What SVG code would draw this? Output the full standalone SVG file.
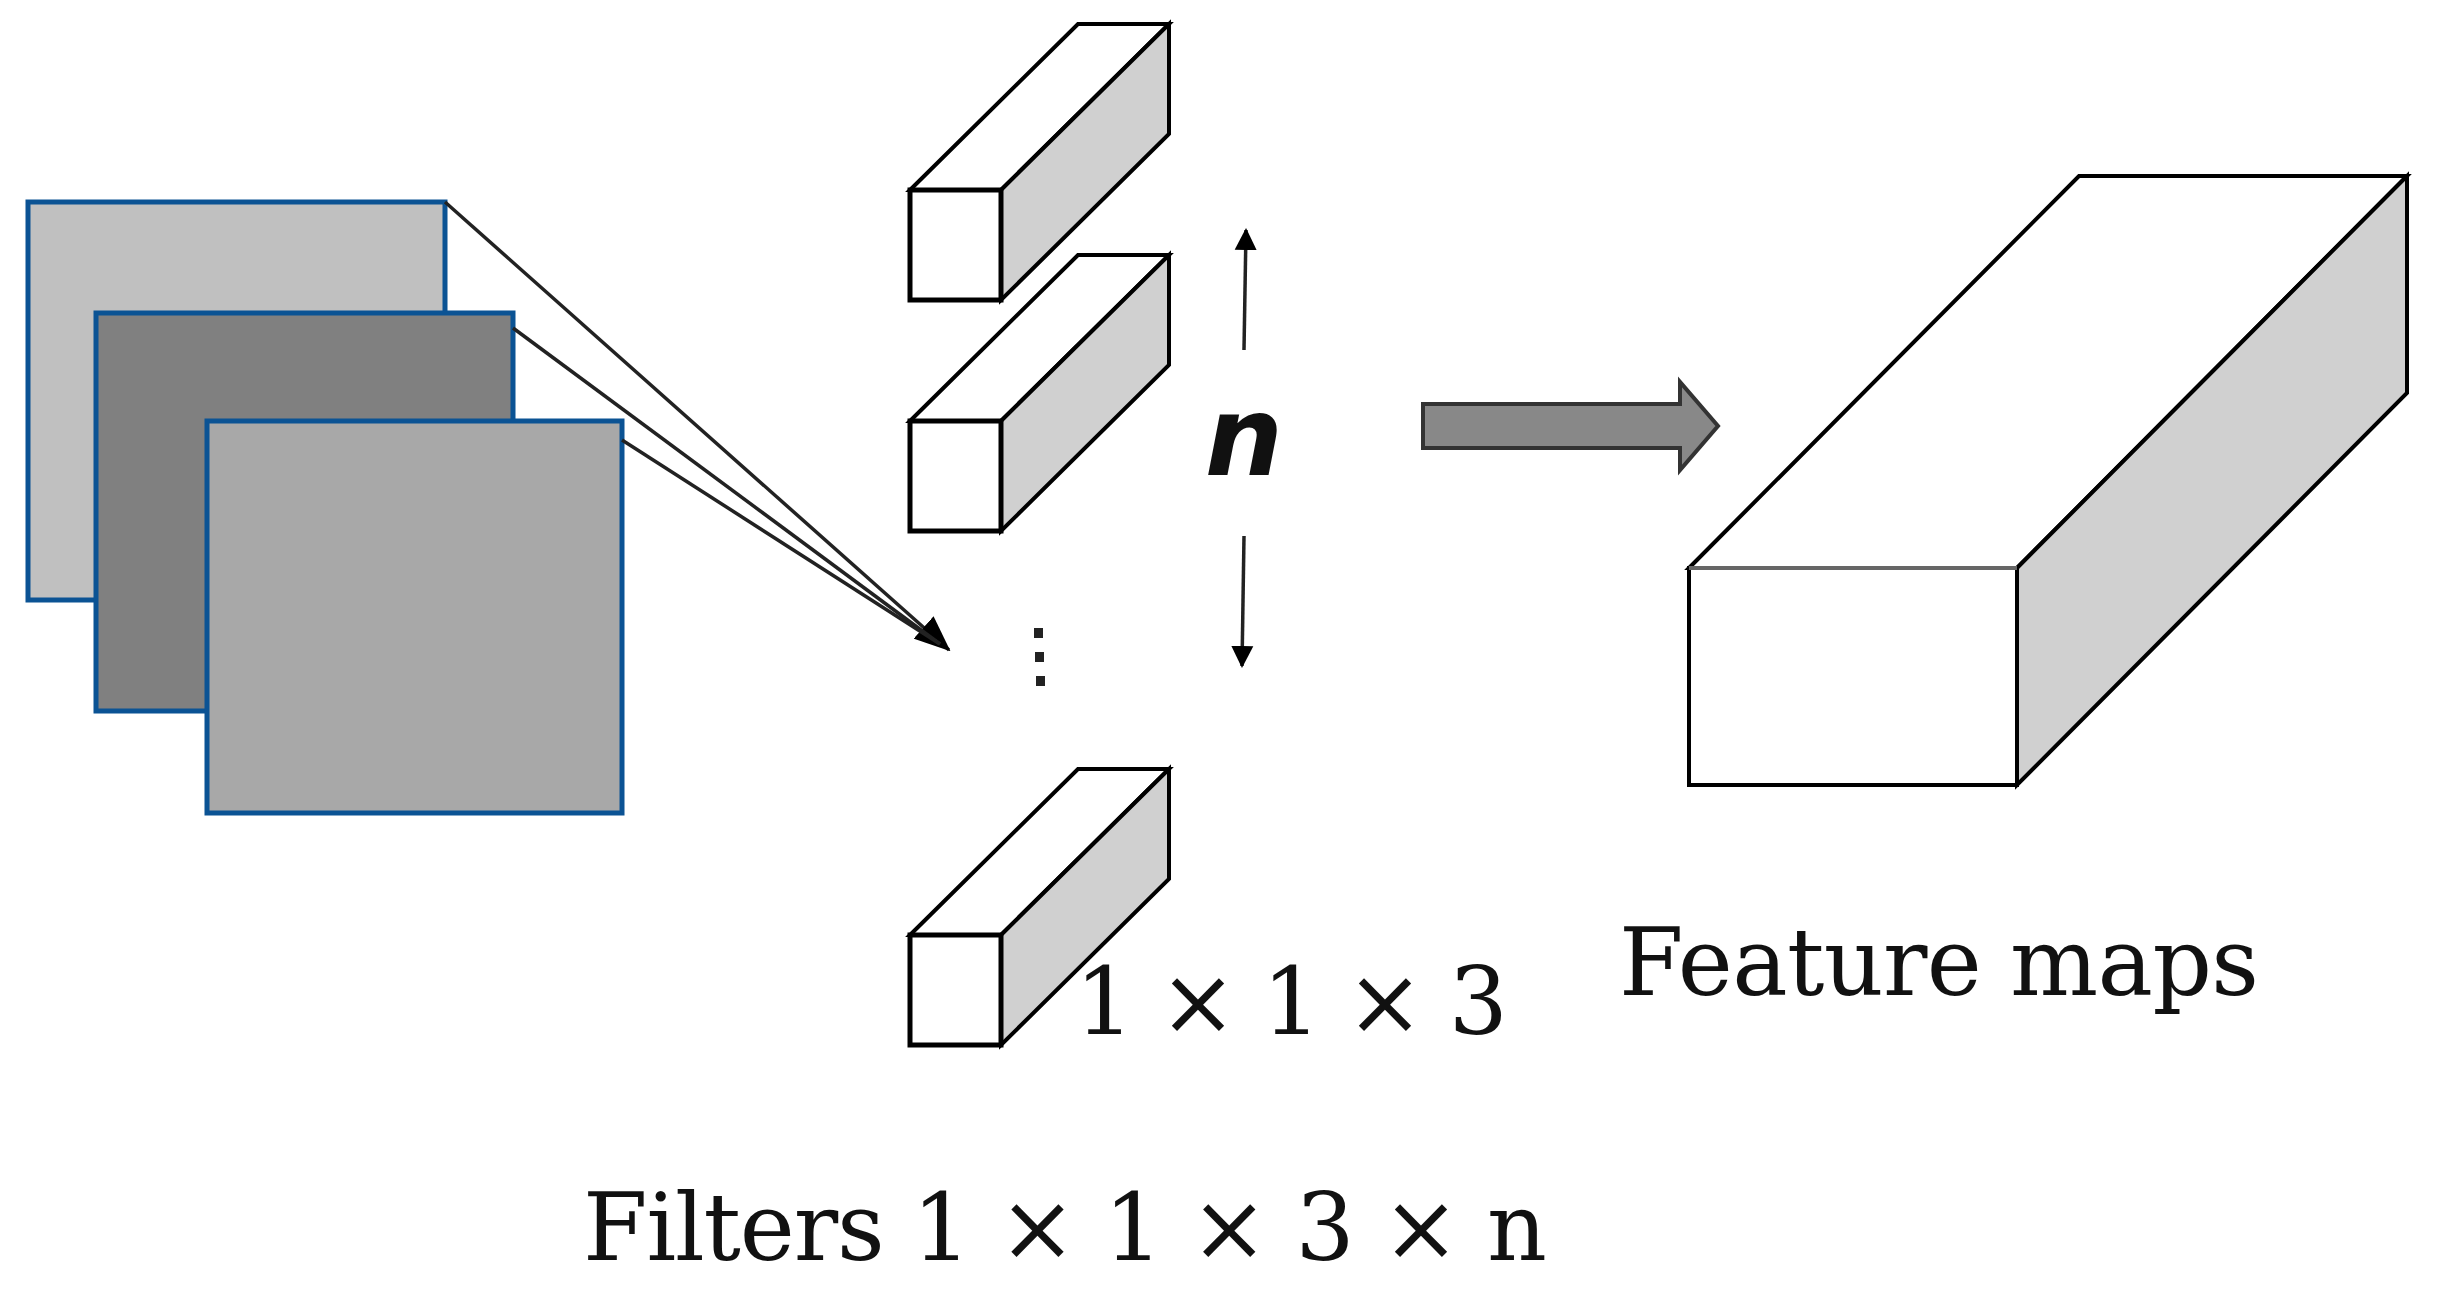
<svg xmlns="http://www.w3.org/2000/svg" width="2438" height="1297" viewBox="0 0 2438 1297">
<style>
.pl{stroke:#0b5394;stroke-width:5}
.f{fill:#fff;stroke:#000;stroke-width:5}
.s{fill:#d0d0d0;stroke:#000;stroke-width:4}
.t{fill:#fff;stroke:#000;stroke-width:4}
.txt{font-family:"DejaVu Serif",serif;font-size:93px;fill:#111}
</style>
<defs>
<marker id="ahb" markerWidth="36" markerHeight="30" refX="34" refY="15" orient="auto" markerUnits="userSpaceOnUse"><path d="M0,0 L36,15 L0,30 z" fill="#000"/></marker>
<marker id="ahs" markerWidth="22" markerHeight="26" refX="20" refY="13" orient="auto" markerUnits="userSpaceOnUse"><path d="M0,2 L22,13 L0,24 z" fill="#000"/></marker>
<g id="box"><polygon class="t" points="0,0 168,-166 259,-166 91,0"/><polygon class="s" points="91,0 259,-166 259,-56 91,110"/><rect class="f" x="0" y="0" width="91" height="110"/></g>
</defs>
<g id="planes">
<rect id="plane1" class="pl" x="28" y="202" width="417" height="398" fill="#c0c0c0"/>
<rect id="plane2" class="pl" x="96" y="313" width="417" height="398" fill="#808080"/>
<rect id="plane3" class="pl" x="207" y="421" width="415" height="392" fill="#a8a8a8"/>
</g>
<g id="connectors" stroke="#222" stroke-width="3.5" fill="none">
<line x1="445" y1="202" x2="949" y2="650" marker-end="url(#ahb)"/>
<line x1="513" y1="328" x2="940" y2="644"/>
<line x1="622" y1="440" x2="940" y2="644"/>
<line x1="1244" y1="350" x2="1246" y2="230" marker-end="url(#ahs)"/>
<line x1="1244" y1="536" x2="1242" y2="666" marker-end="url(#ahs)"/>
<polygon points="1423,404 1680,404 1680,382 1718,426 1680,470 1680,448 1423,448" fill="#888" stroke="#333" stroke-width="4"/>
</g>
<g id="filter1"><use href="#box" x="910" y="190"/></g>
<g id="filter2"><use href="#box" x="910" y="421"/></g>
<g id="filter3"><use href="#box" x="910" y="935"/></g>
<g id="dots" fill="#222"><rect x="1034" y="628" width="9" height="10"/><rect x="1035" y="652" width="9" height="10"/><rect x="1036" y="676" width="9" height="10"/></g>
<text x="1244" y="475" text-anchor="middle" font-family="'DejaVu Sans',sans-serif" font-style="italic" font-weight="bold" font-size="110" fill="#111">n</text>
<g id="feature">
<polygon class="t" points="1689,568 2079,176 2407,176 2017,568"/>
<polygon class="s" points="2017,568 2407,176 2407,393 2017,785"/>
<rect x="1689" y="568" width="328" height="217" fill="#fff" stroke="#000" stroke-width="4"/>
<line x1="1689" y1="568" x2="2017" y2="568" stroke="#666" stroke-width="4"/>
</g>
<text class="txt" x="1075" y="1034" textLength="433">1 × 1 × 3</text>
<text class="txt" x="1619" y="995" textLength="640">Feature maps</text>
<text class="txt" x="583" y="1260" textLength="964">Filters 1 × 1 × 3 × n</text>
</svg>
